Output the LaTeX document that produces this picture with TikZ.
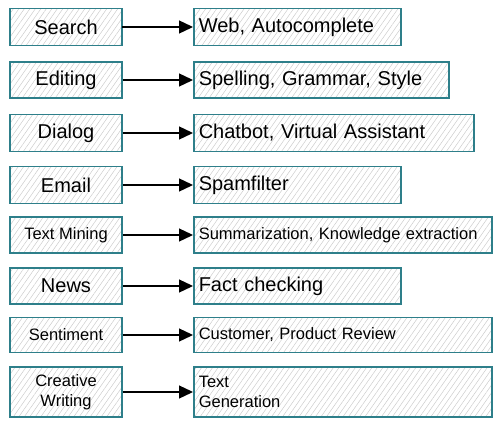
\documentclass[tikz,border=0pt]{standalone}
\usepackage{fontspec}
\setmainfont{Liberation Sans}
\usetikzlibrary{arrows.meta,patterns.meta}
\definecolor{BoxTeal}{HTML}{2E7F8A}

\tikzset{
  hatched/.style={draw=BoxTeal, line width=1.5pt,
    pattern={Lines[angle=55,distance=4.5pt,line width=0.5pt]}, pattern color=gray!40},
  srcbox/.style={hatched, minimum width=112pt, inner sep=0pt, align=center},
  appbox/.style={hatched, anchor=west, inner xsep=5pt, inner ysep=0pt, align=left},
  link/.style={line width=1.3pt, -{Triangle[length=14pt,width=13pt]}}
}

\begin{document}
\begin{tikzpicture}[x=1pt,y=-1pt]
  \useasboundingbox (0,0) rectangle (501,428);
  \foreach \i/\y/\h/\w/\fs/\src/\dst [evaluate=\w as \tw using \w-10, evaluate=\fs as \bl using \fs*1.2] in {
    1/27/37/207/20/Search/{Web, Autocomplete},
    2/80/36/255/20/Editing/{Spelling, Grammar, Style},
    3/133/37/280/20/Dialog/{Chatbot, Virtual Assistant},
    4/185/37/207/20/Email/Spamfilter,
    5/235/36/298/16.5/{Text Mining}/{Summarization, Knowledge extraction},
    6/286/36/207/20/News/{Fact checking},
    7/335/35/298/16.5/Sentiment/{Customer, Product Review},
    8/392/50/298/16.5/{Creative\\Writing}/{Text\\Generation}
  }{
    \node[srcbox, minimum height=\h pt, font=\fontsize{\fs}{\bl}\selectfont] (src\i) at (66,\y) {\src};
    \node[appbox, minimum height=\h pt, text width=\tw pt, font=\fontsize{\fs}{\bl}\selectfont] (app\i) at (193,\y) {\dst};
    \draw[link] (src\i) -- (app\i);
  }
\end{tikzpicture}
\end{document}
